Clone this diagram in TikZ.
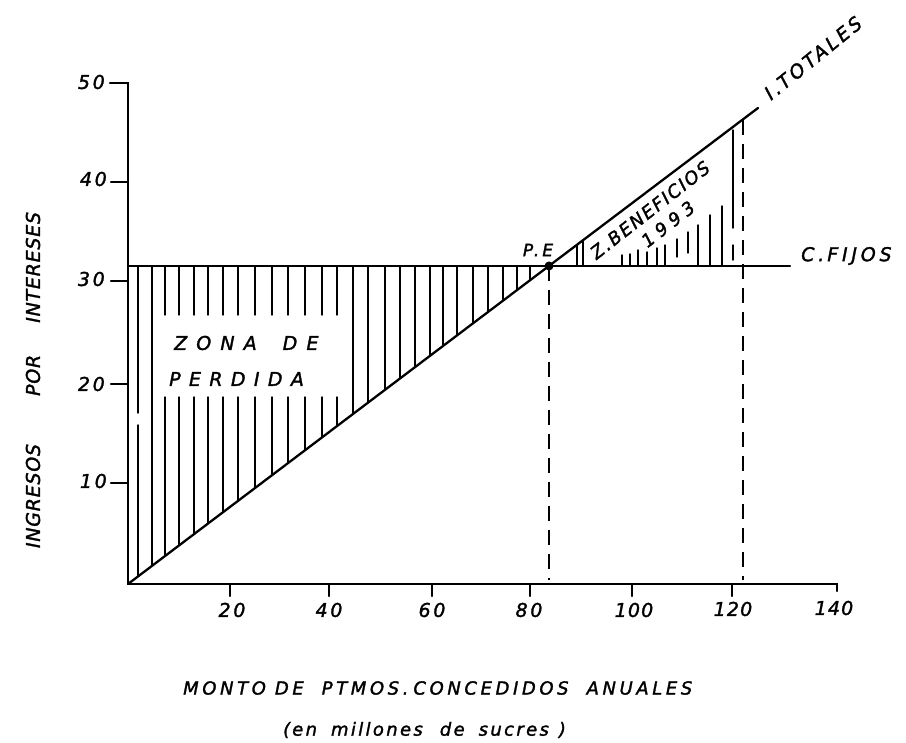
\documentclass[tikz,border=0pt]{standalone}
\usepackage{fontspec}
\setmainfont{DejaVu Sans}
\newcommand\labf[2]{\fontsize{#1}{#1}\selectfont\itshape\addfontfeatures{LetterSpace=#2,FakeBold=1.6}}
\begin{document}
\begin{tikzpicture}[x=1pt,y=-1pt,line cap=round,
  axis/.style={line width=2.3pt},
  mainline/.style={line width=2.3pt},
  hatch/.style={line width=1.4pt},
  dashline/.style={line width=2pt,dash pattern=on 15pt off 9pt,line cap=butt},
  lab/.style={inner sep=0pt,anchor=center}]
\useasboundingbox (0,0) rectangle (906,743);
% key points
\coordinate (O) at (128,584);
\coordinate (YT) at (128,83);
\coordinate (XE) at (837,584);
\coordinate (XEt) at (837,591);
\coordinate (FL) at (128,266);
\coordinate (FR) at (790,266);
\coordinate (TE) at (758,108);
\coordinate (PE) at (549,266);
\coordinate (PEb) at (549,580);
\coordinate (D2t) at (743,120);
\coordinate (D2b) at (743,580);
% axes
\draw[axis] (110,83) -- (YT) -- (O) -- (XE) -- (XEt);
\foreach \yy in {182,281,384,483}{
  \draw[axis] (111,\yy) -- (128,\yy);
}
\foreach \xx in {230,329,432,530,632,732}{
  \draw[axis] (\xx,584) -- (\xx,596);
}
% y tick labels
\node[lab,anchor=east] (t50) at (105,82) {\labf{19}{14}50};
\node[lab,anchor=east] (t40) at (107,179) {\labf{19}{14}40};
\node[lab,anchor=east] (t30) at (105,279) {\labf{19}{14}30};
\node[lab,anchor=east] (t20) at (105,384) {\labf{19}{14}20};
\node[lab,anchor=east] (t10) at (107,481) {\labf{19}{14}10};
% x tick labels
\node[lab] (x20) at (232,610) {\labf{19}{14}20};
\node[lab] (x40) at (329,610) {\labf{19}{14}40};
\node[lab] (x60) at (432,610) {\labf{19}{14}60};
\node[lab] (x80) at (529,610) {\labf{19}{14}80};
\node[lab] (x100) at (634,610) {\labf{19}{6}100};
\node[lab] (x120) at (733,609) {\labf{19}{6}120};
\node[lab] (x140) at (834,608) {\labf{19}{6}140};
% main lines
\draw[mainline] (FL) -- (FR);
\draw[mainline] (O) -- (TE);
\draw[dashline] (PE) -- (PEb);
\draw[dashline] (D2t) -- (D2b);
\fill (PE) circle (4.5pt);
% loss zone hatching
\foreach \x in {152,353,368,385,400,415,430,443,457,473,488,503,517,530}{
  \draw[hatch] (\x,267) -- (\x,{584-(\x-128)*0.7556});
}
\foreach \x in {165,179,194,208,223,238,255,272,288,305,322,337}{
  \draw[hatch] (\x,267) -- (\x,315);
  \draw[hatch] (\x,397) -- (\x,{584-(\x-128)*0.7556});
}
\draw[hatch] (138,267) -- (138,413);
\draw[hatch] (138,425) -- (138,{584-(138-128)*0.7556});
% profit zone hatching
\foreach \x in {577,583}{
  \draw[hatch] (\x,266) -- (\x,{584-(\x-128)*0.7556});
}
\foreach \x/\ya/\yb in {622/255/266,630/254/266,638/250/266,647/252/266,657/248/266,665/245/266,677/239/257,688/232/253,698/225/266,710/215/266,722/206/266,733/130/228,733/245/260}{
  \draw[hatch] (\x,\ya) -- (\x,\yb);
}
% labels
\node[lab,anchor=west] (zona) at (174,343) {\labf{19}{48}ZONA\hspace{26pt}DE};
\node[lab,anchor=west] (perd) at (169,379) {\labf{19}{44}PERDIDA};
\node[lab] (pe) at (538,250) {\labf{17}{18}P.E};
\node[lab,rotate=38] (zb) at (650,210) {\labf{18}{10}Z.\hspace{2pt}BENEFICIOS};
\node[lab,rotate=38] (yr) at (668,224) {\labf{18}{30}1993};
\node[lab,rotate=39] (it) at (813,58) {\labf{19}{16}I.\hspace{2pt}TOTALES};
\node[lab,anchor=west] (cf) at (801,256) {\labf{19}{20}C.\hspace{3pt}FIJOS};
\node[lab,rotate=90] (ylab) at (33,380) {\labf{19}{4}INGRESOS\hspace{48pt}POR\hspace{32pt}INTERESES};
\node[lab,anchor=west] (xl1) at (183,688) {\labf{18}{20}MONTO\hspace{9pt}DE\hspace{18pt}PTMOS.\hspace{5pt}CONCEDIDOS\hspace{18pt}ANUALES};
\node[lab,anchor=west] (xl2) at (283,730) {\labf{18}{13}(\hspace{2pt}en\hspace{14pt}millones\hspace{17pt}de\hspace{14pt}sucres\hspace{10pt})};
\end{tikzpicture}
\end{document}
